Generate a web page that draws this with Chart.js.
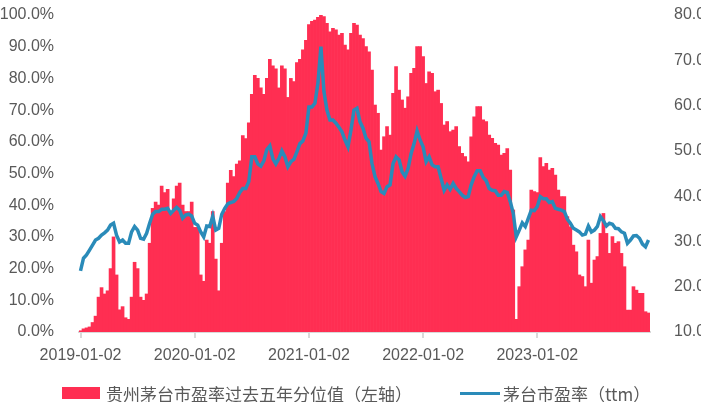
<!DOCTYPE html>
<html>
<head>
<meta charset="utf-8">
<script src="https://cdn.jsdelivr.net/npm/chart.js@4.4.1/dist/chart.umd.min.js"></script>
<style>
  html, body { margin: 0; padding: 0; background: #fff; }
  #wrap { position: relative; width: 701px; height: 402px; }
  #legend { position: absolute; left: 0; top: 384px; width: 701px; height: 18px;
    font-family: "Noto Sans CJK SC", sans-serif; font-size: 17px; color: #595959; }
  .item { position: absolute; top: 0; height: 18px; display: flex; align-items: center; white-space: nowrap; }
  .box { width: 38px; height: 12px; background: #FF2E52; margin-right: 6px; }
  .ln { width: 40px; height: 3px; background: #2A8BB9; margin-right: 3px; }
</style>
</head>
<body>
<div id="wrap">
  <canvas id="chart"></canvas>
  <div id="legend"></div>
</div>
<script>
// tick labels (year starts) and category dates
const tickLabels = ["2019-01-02", "2020-01-02", "2021-01-02", "2022-01-02", "2023-01-02"];
const years = [2019, 2020, 2021, 2022, 2023];
const perYear = 38;

const dates = [];
years.forEach(y => {
  for (let k = 0; k < perYear; k++) {
    const d = new Date(Date.UTC(y, 0, 2 + Math.round(k * 365 / perYear)));
    dates.push(d.toISOString().slice(0, 10));
  }
});

const seriesNames = ["贵州茅台市盈率过去五年分位值（左轴）", "茅台市盈率（ttm）"];

// 分位值 (%)
const pctRank = [
  0.4, 1.0, 1.3, 1.6, 3.0, 5.0, 11, 14, 12, 13,
  20, 30, 18, 7, 8, 4.5, 4, 11, 22, 20,
  11, 10, 12, 28, 39, 41, 40, 46, 44, 45,
  38, 42, 46, 47, 40, 38, 38, 41,
  33, 33, 18, 16, 29, 28, 38, 23, 13, 28,
  38, 47, 51, 49, 53, 54, 62, 61, 66, 75,
  81, 80, 77, 75, 80, 86, 84, 83, 77, 84,
  83, 74, 80, 79, 85, 86, 89, 92,
  97, 98, 98.4, 99.3, 100, 99.5, 97.4, 94.7, 95.8, 95.3,
  93.7, 94.2, 90.5, 89, 94.2, 97.4, 96.8, 93.7, 92.6, 90,
  88.4, 82.6, 71.6, 69, 57.4, 61.6, 64.8, 62.1, 75.3, 83.7,
  76.3, 73.2, 70.6, 74.2, 81.6, 83.2, 90, 90,
  86.9, 78.4, 82.1, 81.6, 75.8, 76.3, 72.1, 65.3, 66.4, 63.2,
  63.7, 64.8, 58.5, 56.4, 55.3, 53.7, 61.6, 67.9, 71.1, 71.1,
  66.9, 66.4, 62.1, 61.1, 59.5, 59, 55.8, 56.4, 57.9, 51.1,
  38.5, 4, 14.3, 20.6, 25.9, 29, 44.8, 44.3,
  44, 55, 52.2, 53.2, 51.1, 51.6, 49.5, 44.8, 42.7, 42.7,
  36.4, 33.2, 27.4, 25.3, 18, 17.5, 14.3, 29, 15.4, 22.7,
  23.8, 31.1, 37.4, 31.1, 24.8, 30.1, 28, 28.5, 24.8, 20.6,
  6.9, 6.9, 14.3, 13.2, 12.2, 12.2, 6.4, 6
];

// 市盈率 ttm
const peTtm = [
  23.5, 26.3, 27.0, 28.1, 29.2, 30.3, 30.7, 31.4, 31.9, 32.5,
  33.6, 34.0, 31.4, 29.9, 30.3, 29.6, 29.6, 32.1, 33.3, 32.5,
  30.7, 30.5, 31.8, 34.0, 36.0, 36.6, 36.6, 37.1, 37.1, 37.3,
  36.2, 36.9, 37.5, 36.9, 35.1, 35.8, 36.0, 35.6,
  34.0, 33.6, 32.1, 31.0, 33.4, 33.3, 35.6, 32.5, 32.9, 36.0,
  37.3, 38.3, 38.6, 38.8, 39.5, 40.8, 41.7, 41.7, 43.2, 48.7,
  48.7, 47.1, 46.6, 47.8, 50.3, 51.1, 48.3, 47.1, 48.3, 50.0,
  48.7, 46.5, 47.6, 48.1, 49.8, 51.6, 52.2, 53.9,
  59.7, 59.7, 60.5, 64.9, 73.0, 63.1, 59.0, 56.8, 56.8, 56.1,
  55.2, 54.2, 52.4, 50.9, 54.6, 59.0, 59.4, 56.4, 55.0, 52.8,
  52.0, 47.2, 44.3, 42.8, 41.0, 40.6, 42.1, 42.5, 47.2, 48.7,
  48.0, 45.4, 44.4, 46.1, 49.4, 51.6, 54.4, 52.4,
  50.9, 47.6, 48.7, 46.9, 46.5, 46.5, 43.9, 41.3, 42.5, 41.5,
  42.8, 41.7, 41.0, 40.2, 39.7, 39.9, 42.5, 44.3, 45.6, 45.6,
  44.1, 43.4, 41.7, 41.3, 41.2, 40.2, 40.2, 41.0, 40.8, 38.8,
  36.2, 31.0, 32.5, 34.1, 33.3, 35.1, 36.9, 36.8,
  37.7, 39.9, 39.4, 39.4, 38.6, 38.8, 37.3, 37.1, 36.9, 36.6,
  34.9, 34.0, 32.9, 32.5, 32.1, 31.4, 31.6, 33.4, 32.1, 32.5,
  33.3, 35.5, 34.6, 33.4, 34.0, 33.8, 32.9, 32.8, 32.1, 31.8,
  29.6, 30.3, 31.2, 31.3, 30.7, 29.4, 28.8, 30.3
];

const RED = "#FF2E52";
const BLUE = "#2A8BB9";
const GREY = "#595959";
const tickFont = { family: "Liberation Sans", size: 16 };

// legend (html, placed under the axis)
const legend = document.getElementById("legend");
legend.innerHTML =
  `<div class="item" style="left:62px"><span class="box"></span>${seriesNames[0]}</div>` +
  `<div class="item" style="left:460px"><span class="ln"></span>${seriesNames[1]}</div>`;

// y scales: fixed width, and don't let the tick padding push the plot down
const fitY = (w) => (s) => { s.width = w; s.paddingTop = 8; s.paddingBottom = 8; };

new Chart(document.getElementById("chart"), {
  data: {
    labels: dates,
    datasets: [
      {
        type: "line",
        label: seriesNames[1],
        data: peTtm,
        yAxisID: "yR",
        borderColor: BLUE,
        borderWidth: 3.5,
        pointRadius: 0,
        tension: 0,
        order: 0
      },
      {
        type: "bar",
        label: seriesNames[0],
        data: pctRank,
        yAxisID: "yL",
        backgroundColor: RED,
        borderWidth: 0,
        barPercentage: 1,
        categoryPercentage: 1,
        order: 1
      }
    ]
  },
  options: {
    responsive: true,
    maintainAspectRatio: false,
    animation: false,
    layout: { padding: { top: 15, bottom: 34, left: 0, right: 0 } },
    plugins: { legend: { display: false }, tooltip: { enabled: false } },
    scales: {
      x: {
        type: "category",
        grid: { drawOnChartArea: false, color: "#D9D9D9", lineWidth: 2, tickLength: 6, offset: false },
        border: { color: "#D9D9D9", width: 2 },
        ticks: { autoSkip: false, maxRotation: 0, color: GREY, font: tickFont, padding: 8 },
        afterBuildTicks: (s) => { s.ticks = tickLabels.map(t => ({ value: dates.indexOf(t) })); },
        afterFit: (s) => { s.height = 36; }
      },
      yL: {
        position: "left",
        min: 0, max: 100,
        grid: { display: false },
        border: { display: false },
        ticks: { stepSize: 10, color: GREY, font: tickFont, padding: 17, callback: (v) => v.toFixed(1) + "%" },
        afterFit: fitY(79)
      },
      yR: {
        position: "right",
        min: 10, max: 80,
        grid: { display: false },
        border: { display: false },
        ticks: { stepSize: 10, color: GREY, font: tickFont, padding: 16, callback: (v) => v.toFixed(1) },
        afterFit: fitY(51)
      }
    }
  }
});
</script>
</body>
</html>
